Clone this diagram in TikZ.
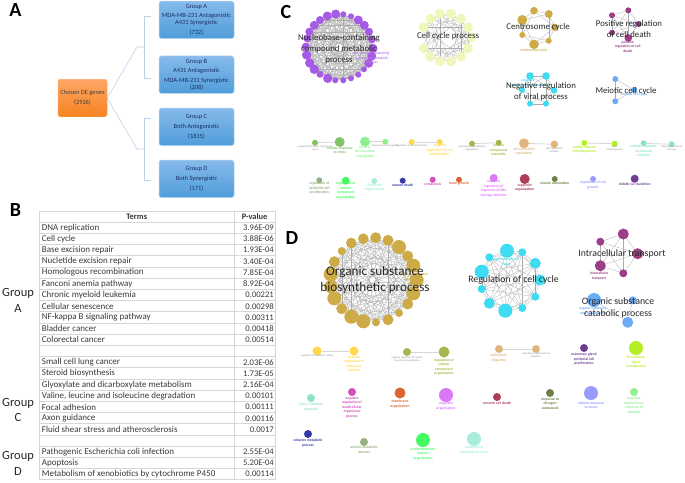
\documentclass[tikz,border=0pt]{standalone}
\usepackage{xcolor}
\usepackage{fontspec}
\setmainfont{Carlito}
\usepackage{tikz}
\usetikzlibrary{positioning}

\definecolor{boxtop}{HTML}{86BAEA}
\definecolor{boxbottom}{HTML}{4F9DDA}
\definecolor{boxtext}{HTML}{1C2F66}
\definecolor{chosentop}{HTML}{FFA766}
\definecolor{chosenbottom}{HTML}{F58220}
\definecolor{forkline}{HTML}{BCD0EA}
\definecolor{gridline}{HTML}{D6D6D6}
\definecolor{netpurple}{HTML}{A65BE6}
\definecolor{netpale}{HTML}{F0F6BC}
\definecolor{netgold}{HTML}{CDAC48}
\definecolor{netplum}{HTML}{9C3E86}
\definecolor{netcyan}{HTML}{3EDCF2}
\definecolor{netblue}{HTML}{6CABF7}
\definecolor{termgreen}{HTML}{84C26A}
\definecolor{termmint}{HTML}{90F090}
\definecolor{termyellow}{HTML}{FFD84D}
\definecolor{termolive}{HTML}{A3B84B}
\definecolor{termtan}{HTML}{E0B57D}
\definecolor{termlime}{HTML}{B5EE25}
\definecolor{termaqua}{HTML}{8CE3CB}
\definecolor{termsage}{HTML}{94AF80}
\definecolor{termbright}{HTML}{45FA63}
\definecolor{termpale}{HTML}{A8ECD9}
\definecolor{termnavy}{HTML}{3339A8}
\definecolor{termpink}{HTML}{D24FBE}
\definecolor{termorange}{HTML}{DD6333}
\definecolor{termviolet}{HTML}{DA78F8}
\definecolor{termcrimson}{HTML}{AE3B58}
\definecolor{termmoss}{HTML}{6C8047}
\definecolor{termperi}{HTML}{9A9CFB}
\definecolor{termgrape}{HTML}{6B3F92}

\tikzset{
	groupbox/.style={draw=boxtop!60,line width=0.5pt,rounded corners=2.5pt,top color=boxtop,bottom color=boxbottom,minimum width=75pt,minimum height=37.5pt,inner sep=0pt,align=center,text=boxtext,font=\fontsize{6.4}{7}\selectfont},
	forkedge/.style={draw=forkline,line width=0.6pt},
	cellterm/.style={anchor=west,inner sep=0pt,text=black!78,font=\fontsize{9}{10}\selectfont},
	cellpval/.style={anchor=east,inner sep=0pt,text=black!78,font=\fontsize{8.6}{10}\selectfont},
	panelletter/.style={inner sep=0pt,font=\fontsize{20}{22}\selectfont\bfseries},
	sidelabel/.style={inner sep=0pt,align=center,text=black!85,font=\fontsize{12.5}{15.5}\selectfont},
	smallname/.style={inner sep=0pt,align=center,text=black!85,font=\fontsize{8.8}{11}\selectfont},
	midname/.style={inner sep=0pt,align=center,text=black!85,font=\fontsize{9.8}{11.6}\selectfont},
	bigname/.style={inner sep=0pt,align=center,text=black!85,font=\fontsize{13.2}{16}\selectfont},
	tinylabel/.style={inner sep=0pt,align=center,font=\fontsize{3.7}{4.5}\selectfont\bfseries},
	greylabel/.style={inner sep=0pt,align=center,text=black!45,font=\fontsize{2.6}{3.2}\selectfont},
	termnode/.style={circle,inner sep=0pt},
	netedge/.style={draw=black!32,line width=0.28pt},
	pairedge/.style={draw=black!16,line width=0.8pt}
}

% one ring of nodes: prefix, colour, count, chord steps, x/y/radius list
\newcommand{\netgraph}[5]{%
	\foreach \x/\y/\rad [count=\k] in {#5} {\coordinate (#1\k) at (\x,\y);}
	\foreach \i in {1,...,#3} {\foreach \s in {#4} {%
		\pgfmathtruncatemacro{\j}{mod(\i+\s-1,#3)+1}
		\draw[netedge] (#1\i) -- (#1\j);}}
	\foreach \x/\y/\rad in {#5} {\fill[#2] (\x,\y) circle (\rad);}
}
% one dot: name, x, y, radius, colour
\newcommand{\pairdot}[5]{\node[termnode,fill=#5,minimum size=#4*2pt] (#1) at (#2,#3) {};}
% one dot with its label: the same, then label y, label
\newcommand{\termdot}[7]{%
	\pairdot{#1}{#2}{#3}{#4}{#5}
	\node[tinylabel,text=#5] (#1l) at (#2,#6) {#7};
}

\begin{document}
\begin{tikzpicture}[x=1pt,y=-1pt]
\useasboundingbox (0,0) rectangle (685,482);

% Panel letters
\node[panelletter] (letterA) at (15.5,10.5) {A};
\node[panelletter] (letterB) at (15.5,210) {B};
\node[panelletter] (letterC) at (286,12) {C};
\node[panelletter] (letterD) at (292,238.5) {D};

% Panel A boxes
\node[groupbox] (groupA) at (196.5,19.8) {Group A\\[2.6pt]MDA-MB-231 Antagonistic\\A431 Synergistic\\[3pt](732)};
\node[groupbox] (groupB) at (196.5,74.7) {Group B\\[2.6pt]A431 Antagonistic\\[2.6pt]MDA-MB-231 Synergistic\\(208)};
\node[groupbox] (groupC) at (196.5,126.8) {Group C\\[2.6pt]Both Antagonistic\\[3pt](1815)};
\node[groupbox] (groupD) at (196.5,178.8) {Group D\\[2.6pt]Both Synergistic\\[3pt](171)};
\node[groupbox,minimum width=49pt,top color=chosentop,bottom color=chosenbottom,draw=chosentop,text=black!75] (chosen) at (82.5,98) {Chosen DE genes\\[2.6pt](2926)};

% Panel A fork
\coordinate (forkAB) at (144.3,47);
\coordinate (forkCD) at (144.3,149);
\coordinate (tickA) at (151,16);
\coordinate (tickB) at (151,78);
\coordinate (tickC) at (151,118);
\coordinate (tickD) at (151,180.5);
\draw[forkedge] (chosen.east) -- (137,47) -- (forkAB);
\draw[forkedge] (chosen.east) -- (137,149) -- (forkCD);
\draw[forkedge] (tickA) -- (tickA -| forkAB) -- (tickB -| forkAB) -- (tickB);
\draw[forkedge] (tickC) -- (tickC -| forkCD) -- (tickD -| forkCD) -- (tickD);

% Panel B grid
\foreach \k in {0,...,24} {\draw[gridline,line width=0.7pt] (39.3,{211+11.2*\k}) -- (275,{211+11.2*\k});}
\foreach \colx in {39.3,234,275} {\draw[gridline,line width=0.7pt] (\colx,211) -- (\colx,479.8);}
\node[cellterm,anchor=center,font=\fontsize{8.4}{10}\selectfont\bfseries] (termhead) at (136.7,216.6) {Terms};
\node[cellpval,anchor=center,font=\fontsize{8.4}{10}\selectfont\bfseries] (pvalhead) at (254.6,216.6) {P-value};
% Panel B rows
\foreach \term/\pval [count=\i] in {
	DNA replication/3.96E-09,Cell cycle/3.88E-06,Base excision repair/1.93E-04,Nucletide excision repair/3.40E-04,
	Homologous recombination/7.85E-04,Fanconi anemia pathway/8.92E-04,Chronic myeloid leukemia/0.00221,
	Cellular senescence/0.00298,NF-kappa B signaling pathway/0.00311,Bladder cancer/0.00418,Colorectal cancer/0.00514,
	{}/{},Small cell lung cancer/2.03E-06,Steroid biosynthesis/1.73E-05,Glyoxylate and dicarboxylate metabolism/2.16E-04,
	{Valine, leucine and isoleucine degradation}/0.00101,Focal adhesion/0.00111,Axon guidance/0.00116,
	Fluid shear stress and atherosclerosis/0.0017,{}/{},Pathogenic Escherichia coli infection/2.55E-04,
	Apoptosis/5.20E-04,Metabolism of xenobiotics by cytochrome P450/0.00114} {
	\node[cellterm] (term\i) at (41.7,{216.6+11.2*\i}) {\term};
	\node[cellpval] (pval\i) at (274,{216.6+11.2*\i}) {\pval};
}
\node[sidelabel] (sideA) at (18,300.5) {Group\\A};
\node[sidelabel] (sideC) at (18,410) {Group\\C};
\node[sidelabel] (sideD) at (18,463.5) {Group\\D};

% Panel C networks
\netgraph{cp}{netpurple}{26}{3,5,7,9,11,12}{335.7/14/4.5,343.3/14.3/3,351/16.3/3,358.3/20/4.5,364.3/25.3/4.5,369/31.7/4,372/39.3/4,373/48.3/4.5,371.7/56/4.5,368.7/63.3/4.5,364/69.3/3,358.3/74.7/3,351/78.3/3,343.3/80.3/3,335.3/80.3/3,327.7/78.3/4.7,320/74.3/3.5,314.3/69.3/4.7,309.7/63/4.7,306.7/55/4.7,305.7/46.7/4,307.3/38.3/4,309.3/31.7/4,314.3/25.3/4.5,320/20/4,327.3/16/4.5}
\netgraph{cy}{netpale}{13}{2,4,5}{440/13.7/5,451/13.7/5,461/18.7/5,468/27.3/5,471.7/37.3/5,468/48.3/5,461/56.7/5,451/61.3/5,440/61.3/5,430.3/56.7/5,423.7/48.3/5,423.7/27.3/5,430.3/18.7/5}
\netgraph{cg}{netgold}{7}{1,2}{522.3/20/5,534/10.7/3.8,548.7/14/4,554.7/27.3/3.7,548.7/40.7/3,534/44.3/4.8,522.3/35/3}
\netgraph{cm}{netplum}{5}{1,2}{612/15.3/3,628.3/10.3/3,638.7/24/3,628.3/38/3.8,612/32.7/3}
\netgraph{cc}{netcyan}{6}{1,2}{530/76/3.8,546/76/3.8,554/90.3/3.3,546/103.7/3,530/103.7/3,522/90/3}
\netgraph{cb}{netblue}{3}{1}{615.3/79/3,634.3/90/3,615.3/101.3/3}
\node[tinylabel,text=netpurple!80] (cpl) at (372,58) {nucleobase-containing\\compound metabolic\\process};
\node[tinylabel,text=netgold] (cgl) at (534,50.7) {centrosome cycle};
\node[tinylabel,text=netplum] (cml) at (627.7,46.7) {positive\\regulation of cell\\death};
\node[tinylabel,text=netcyan] (ccl) at (528,83) {negative\\regulation of viral process};
\node[tinylabel,text=netblue] (cbl) at (634,94.7) {meiotic cell cycle};
\node[smallname] (cpname) at (339,49) {Nucleobase-containing\\compound metabolic\\process};
\node[smallname] (cyname) at (448,36) {Cell cycle process};
\node[smallname] (cgname) at (538,27) {Centrosome cycle};
\node[smallname] (cmname) at (629,28.5) {Positive regulation\\of cell death};
\node[smallname] (ccname) at (541,92) {Negative regulation\\of viral process};
\node[smallname] (cbname) at (626,91) {Meiotic cell cycle};

% Panel C lone terms and pairs
\pairdot{ca1}{315}{142.7}{3}{termgreen}
\termdot{ca2}{339.7}{142}{5}{termgreen}{150}{cellular response\\to stress}
\termdot{cb1}{365}{141.7}{5}{termmint}{151.7}{nuclear\\chromosome\\segregation}
\pairdot{cb2}{385.3}{141.7}{3}{termmint}
\pairdot{cc1}{411.7}{142}{3}{termyellow}
\termdot{cc2}{439.7}{142}{3}{termyellow}{150}{negative\\regulation of cell\\proliferation}
\pairdot{cd1}{472}{143.7}{3}{termolive}
\termdot{cd2}{498.7}{142.7}{3}{termolive}{150.3}{cellular\\component\\assembly}
\termdot{ce1}{524}{143.3}{5}{termtan}{151.3}{cell cycle DNA\\replication}
\pairdot{ce2}{554.3}{144.3}{3.8}{termtan}
\termdot{cf1}{584.3}{143}{3}{termlime}{149.3}{cardiac septum\\morphogenesis}
\pairdot{cf2}{614.7}{143.7}{3}{termlime}
\termdot{cg1}{643.7}{143.3}{3}{termaqua}{151}{cellular response\\to external\\stimulus}
\pairdot{cg2}{671.7}{144.3}{3}{termaqua}
\draw[pairedge] (ca1) -- (ca2);
\draw[pairedge] (cb1) -- (cb2);
\draw[pairedge] (cc1) -- (cc2);
\draw[pairedge] (cd1) -- (cd2);
\draw[pairedge] (ce1) -- (ce2);
\draw[pairedge] (cf1) -- (cf2);
\draw[pairedge] (cg1) -- (cg2);
\node[greylabel] (cagrey) at (315,148) {regulation of cellular response to\\stress};
\node[greylabel] (cbgrey) at (385.3,145.5) {chromosome segregation};
\node[greylabel] (ccgrey) at (411.7,145.5) {regulation of cell proliferation};
\node[greylabel] (cdgrey) at (472,148.5) {microtubule cytoskeleton\\organization};
\node[greylabel] (cegrey) at (554.3,150) {DNA replication\\initiation};
\node[greylabel] (cfgrey) at (614.7,148.5) {heart\\morphogenesis};
\node[greylabel] (cggrey) at (671.7,148.5) {response to external\\stimulus};
\termdot{ch}{319.3}{180.3}{3}{termsage}{188}{regulation of\\epithelial cell\\proliferation}
\termdot{ci}{345.7}{180.7}{4}{termbright}{190.7}{regulation of\\cellular\\component\\organization}
\termdot{cj}{374.3}{181}{3}{termpale}{187.3}{chromatin\\organization}
\termdot{ck}{402.7}{180.7}{3}{termnavy}{185}{neuron death}
\termdot{cl}{432.7}{179.7}{3}{termpink}{184}{cytokinesis}
\termdot{cn}{459}{179.7}{3}{termorange}{184}{bone growth}
\termdot{co}{493.7}{178}{4}{termviolet}{188.3}{negative\\regulation of\\response to DNA\\damage stimulus}
\termdot{cq}{524.7}{179}{5}{termcrimson}{187.3}{organelle\\organization}
\termdot{cr}{554.7}{179}{3}{termmoss}{183.7}{muscle maturation}
\termdot{cs}{593}{179}{3}{termperi}{185}{regulation of cell\\growth}
\termdot{ct}{634.7}{178.7}{4}{termgrape}{184.3}{mitotic G1 transition}

% Panel D networks
\netgraph{do}{netgold}{21}{3,5,7,8,10}{351.3/243/5.3,363.3/238.7/5.3,375.7/237.7/5.5,388/240.3/5.5,399/247/7,407.7/256/5.5,413.3/265.7/7,416.7/280/7,413.3/293.3/7,407.7/304/5.5,399/313/4,388/319.7/5.5,376/322.3/4,363.3/321.3/7,351.3/316.7/7,341.7/308.7/5.5,334.3/298.3/7,330.7/286.7/6.5,330.7/274.3/7,334.3/261.7/5.5,341.7/251/4}
\fill[white] (372.7,280) circle (2.8);
\netgraph{dr}{netcyan}{11}{1,2,4,5}{507/250.7/7,522.3/252.3/4,535.3/263.3/5.5,540/280/5.5,535.3/296.7/4,522.3/308/4,505.3/310.7/7,489.3/303.3/5.5,481.7/289/4,481.7/271.7/7,489.3/257.3/4}
\netgraph{di}{netplum}{5}{1,2}{600.3/241.7/4,623.3/234/5.5,637.7/253.7/5.5,623.3/273.3/4,600.3/265.7/5.5}
\netgraph{dc}{netblue}{3}{1}{594/300/7,632.7/300.3/4,627.7/322.3/5.5}
\node[tinylabel,text=netgold] (dol) at (414,279) {organic substance\\biosynthetic\\process};
\node[tinylabel,text=netcyan] (drl) at (506,262) {regulation of cell\\cycle};
\node[tinylabel,text=netplum] (dil) at (599,276) {intracellular\\transport};
\node[tinylabel,text=netblue] (dcl) at (593,311) {organic substance\\catabolic process};
\node[bigname] (doname) at (375,280) {Organic substance\\biosynthetic process};
\node[midname] (drname) at (513.5,280) {Regulation of cell cycle};
\node[midname] (diname) at (622,254) {Intracellular transport};
\node[midname] (dcname) at (618,308) {Organic substance\\catabolic process};

% Panel D lone terms and pairs
\pairdot{da1}{317}{351}{4.5}{termyellow}
\termdot{da2}{354}{351}{4.5}{termyellow}{363.7}{positive\\regulation of\\molecular\\function}
\pairdot{db1}{407}{352}{4}{termolive}
\termdot{db2}{444}{352}{5.5}{termolive}{367}{regulation of\\cellular\\component\\organization}
\termdot{dd1}{499}{349}{4}{termtan}{358}{epithelium\\migration}
\pairdot{dd2}{536}{349}{4}{termtan}
\draw[pairedge] (da1) -- (da2);
\draw[pairedge] (db1) -- (db2);
\draw[pairedge] (dd1) -- (dd2);
\node[greylabel] (dagrey) at (317,356) {regulation of metabolic activity};
\node[greylabel] (dbgrey) at (407,359) {negative regulation of cellular\\component organization};
\node[greylabel] (ddgrey) at (536,355) {regulation of epithelial cell\\migration};
\termdot{de}{584}{348}{4}{termgrape}{359}{mammary gland\\epithelial cell\\proliferation}
\termdot{df}{636}{348}{7}{termlime}{362}{intracellular\\signal\\transduction}
\termdot{dg}{311}{398}{4}{termaqua}{407}{type 2 immune\\response}
\termdot{dh}{352}{392}{4}{termpink}{407}{negative\\regulation of\\multicellular\\organismal\\process}
\termdot{dj}{400}{393}{5.5}{termorange}{404}{membrane\\organization}
\termdot{dk}{446}{395}{7}{termviolet}{406}{organelle\\organization}
\termdot{dl}{497}{397}{4}{termcrimson}{403}{necrotic cell death}
\termdot{dm}{550}{393}{4}{termmoss}{404}{response to\\nitrogen\\compound}
\termdot{dn}{591}{393}{7}{termperi}{405}{cellular response\\to stress}
\termdot{dp}{634}{392}{4}{termmint}{405}{negative\\regulation of\\response to\\stimulus}
\termdot{dq}{308}{434}{4}{termnavy}{443}{cofactor metabolic\\process}
\termdot{ds}{364}{442}{4}{termsage}{450}{alcohol metabolic\\process}
\termdot{dt}{423}{440}{7}{termbright}{454}{endomembrane\\system\\organization}
\termdot{du}{474}{439}{7}{termpale}{450}{phosphorus\\metabolic process}

\end{tikzpicture}
\end{document}
